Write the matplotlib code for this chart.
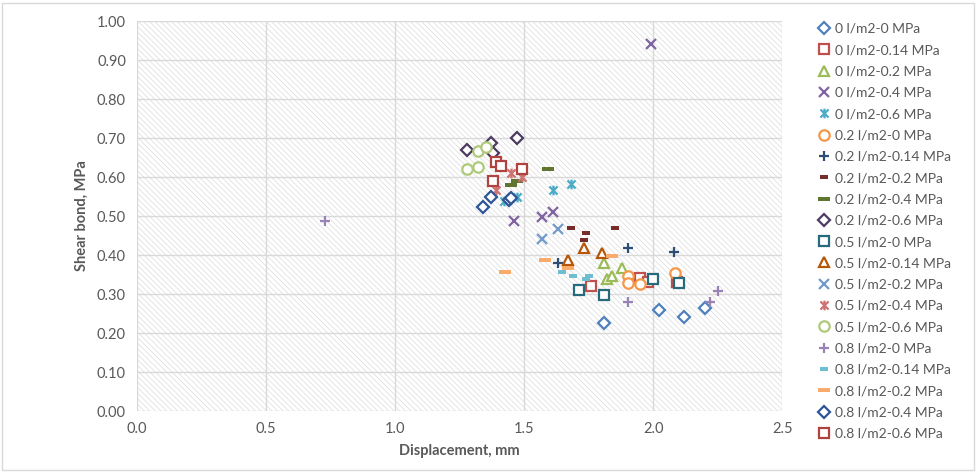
import matplotlib
matplotlib.use('Agg')
import matplotlib.pyplot as plt
from matplotlib.path import Path
from matplotlib.patches import Rectangle

plt.rcParams['font.family'] = ['Lato', 'DejaVu Sans']
plt.rcParams['hatch.linewidth'] = 0.5

# series names (water spray rate - normal stress)
labels = [
    '0 l/m2-0 MPa', '0 l/m2-0.14 MPa', '0 l/m2-0.2 MPa', '0 l/m2-0.4 MPa', '0 l/m2-0.6 MPa',
    '0.2 l/m2-0 MPa', '0.2 l/m2-0.14 MPa', '0.2 l/m2-0.2 MPa', '0.2 l/m2-0.4 MPa', '0.2 l/m2-0.6 MPa',
    '0.5 l/m2-0 MPa', '0.5 l/m2-0.14 MPa', '0.5 l/m2-0.2 MPa', '0.5 l/m2-0.4 MPa', '0.5 l/m2-0.6 MPa',
    '0.8 l/m2-0 MPa', '0.8 l/m2-0.14 MPa', '0.8 l/m2-0.2 MPa', '0.8 l/m2-0.4 MPa', '0.8 l/m2-0.6 MPa',
]

# displacement (mm) per series
disp = [
    [1.81, 2.02, 2.12, 2.20],
    [1.76, 1.95, 1.98, 2.09],
    [1.81, 1.88, 1.82, 1.84],
    [1.99, 1.57, 1.61, 1.46],
    [1.61, 1.68, 1.47, 1.42],
    [1.90, 1.90, 1.95, 2.085],
    [1.90, 2.08, 1.63],
    [1.68, 1.74, 1.73, 1.85],
    [1.59, 1.45, 1.47],
    [1.28, 1.37, 1.38, 1.47],
    [1.71, 1.81, 2.00, 2.10],
    [1.73, 1.80, 1.67],
    [1.63, 1.57],
    [1.39, 1.45, 1.49],
    [1.32, 1.35, 1.28, 1.32],
    [0.73, 1.90, 2.25, 2.22],
    [1.645, 1.69, 1.74, 1.75],
    [1.425, 1.58, 1.67, 1.84],
    [1.34, 1.37, 1.44, 1.45],
    [1.38, 1.39, 1.41, 1.49],
]

# shear bond strength (MPa) per series
shear = [
    [0.226, 0.26, 0.24, 0.265],
    [0.32, 0.34, 0.33, 0.33],
    [0.38, 0.367, 0.338, 0.346],
    [0.94, 0.497, 0.51, 0.487],
    [0.567, 0.581, 0.549, 0.538],
    [0.346, 0.328, 0.326, 0.354],
    [0.418, 0.408, 0.38],
    [0.47, 0.456, 0.438, 0.47],
    [0.62, 0.58, 0.59],
    [0.67, 0.687, 0.662, 0.70],
    [0.31, 0.297, 0.338, 0.328],
    [0.418, 0.405, 0.387],
    [0.467, 0.441],
    [0.567, 0.61, 0.60],
    [0.667, 0.677, 0.62, 0.626],
    [0.487, 0.28, 0.308, 0.28],
    [0.357, 0.345, 0.338, 0.346],
    [0.356, 0.387, 0.367, 0.397],
    [0.523, 0.549, 0.541, 0.545],
    [0.59, 0.638, 0.628, 0.62],
]

colors = [
    '#4F81BD', '#C0504D', '#9BBB59', '#8064A2', '#4BACC6',
    '#F79646', '#2C4D75', '#772C2A', '#5F7530', '#4D3B62',
    '#276A7C', '#B65708', '#729ACA', '#CD7371', '#AFC97A',
    '#9983B5', '#6FBDD1', '#F9AB6B', '#2F5597', '#B0423F',
]

# excel-like marker shapes, cycling every 9 series
star = Path([(-1, -1), (1, 1), (-1, 1), (1, -1), (0, -1.2), (0, 1.2)],
            [Path.MOVETO, Path.LINETO, Path.MOVETO, Path.LINETO, Path.MOVETO, Path.LINETO])
short_dash = Path([(-1, -0.55), (1, -0.55), (1, 0.55), (-1, 0.55), (-1, -0.55)])
long_dash = Path([(-1, -0.3), (1, -0.3), (1, 0.3), (-1, 0.3), (-1, -0.3)])

cycle_shapes = ['D', 's', '^', 'x', star, 'o', '+', short_dash, long_dash]
cycle_sizes = [6, 7.5, 7.5, 7, 7, 7.5, 7.5, 5.5, 9]
shapes = [cycle_shapes[i % 9] for i in range(len(labels))]
sizes = [cycle_sizes[i % 9] for i in range(len(labels))]

fig = plt.figure(figsize=(9.76, 4.72), dpi=100)
fig.patches.append(Rectangle((0.002, 0.004), 0.996, 0.99, transform=fig.transFigure,
                             fill=False, edgecolor='#D9D9D9', lw=1))
ax = fig.add_axes([0.1404, 0.1292, 0.6613, 0.8263])

# hatched plot area
ax.patch.set_facecolor('white')
ax.add_patch(Rectangle((0, 0), 1, 1, transform=ax.transAxes, facecolor='white',
                       edgecolor='#DCDCDC', lw=0, hatch='\\\\\\\\\\\\', zorder=0))

for lab, xs, ys, c, m, s in zip(labels, disp, shear, colors, shapes, sizes):
    filled = m is short_dash or m is long_dash
    ax.plot(xs, ys, ls='none', marker=m, ms=s, mew=0 if filled else 1.6,
            mec=c, mfc=c if filled else 'white', label=lab, zorder=3)

ax.set_xlim(0, 2.5)
ax.set_ylim(0, 1.0)
ax.set_xticks([0, 0.5, 1.0, 1.5, 2.0, 2.5])
ax.set_yticks([i / 10 for i in range(11)])
ax.xaxis.set_major_formatter(matplotlib.ticker.FormatStrFormatter('%.1f'))
ax.yaxis.set_major_formatter(matplotlib.ticker.FormatStrFormatter('%.2f'))
ax.grid(True, color='#D9D9D9', lw=1, zorder=1)
ax.set_axisbelow(True)
for sp in ax.spines.values():
    sp.set_visible(False)
ax.tick_params(length=0, labelsize=10.5, labelcolor='#595959', pad=8)

ax.set_xlabel('Displacement, mm', fontsize=10.5, fontweight='bold', color='#595959', labelpad=6)
ax.set_ylabel('Shear bond, MPa', fontsize=10.5, fontweight='bold', color='#595959', labelpad=6)

ax.legend(loc='upper left', bbox_to_anchor=(0.83, 0.966), bbox_transform=fig.transFigure,
          frameon=False, fontsize=10, labelspacing=0.67, handlelength=1.0,
          handletextpad=0.3, borderpad=0, labelcolor='#595959')

fig.savefig('out.png', dpi=100)
